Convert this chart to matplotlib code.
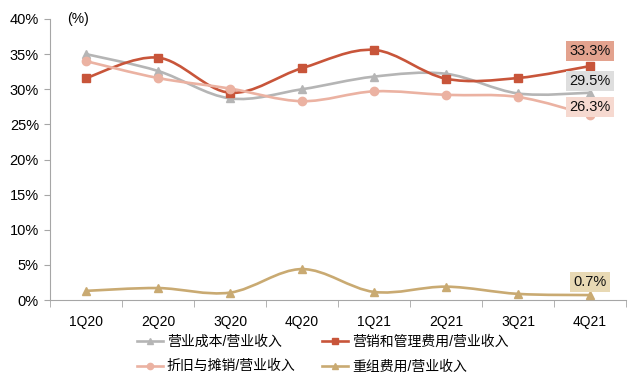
import numpy as np
import matplotlib
matplotlib.use("Agg")
from matplotlib import pyplot as plt
from matplotlib.path import Path
from matplotlib.patches import PathPatch
from matplotlib.lines import Line2D

plt.rcParams['font.family'] = ['Liberation Sans', 'Noto Sans CJK SC', 'DejaVu Sans']

quarters = ["1Q20", "2Q20", "3Q20", "4Q20", "1Q21", "2Q21", "3Q21", "4Q21"]
cost_ratio = [35.0, 32.6, 28.7, 30.0, 31.8, 32.2, 29.4, 29.5]
sga_ratio = [31.6, 34.5, 29.5, 33.0, 35.6, 31.5, 31.6, 33.3]
da_ratio = [34.0, 31.6, 30.1, 28.3, 29.7, 29.2, 28.9, 26.3]
restructuring_ratio = [1.3, 1.7, 1.05, 4.4, 1.15, 1.9, 0.87, 0.7]

series_names = ["营业成本/营业收入", "营销和管理费用/营业收入",
                "折旧与摊销/营业收入", "重组费用/营业收入"]


def smooth_path(xs, ys):
    # excel-like smoothed line: cubic bezier through the points
    pts = np.column_stack([xs, ys]).astype(float)
    n = len(pts)
    verts = [pts[0]]
    codes = [Path.MOVETO]
    for i in range(n - 1):
        p0 = pts[max(i - 1, 0)]
        p1 = pts[i]
        p2 = pts[i + 1]
        p3 = pts[min(i + 2, n - 1)]
        verts += [p1 + (p2 - p0) / 6, p2 - (p3 - p1) / 6, p2]
        codes += [Path.CURVE4] * 3
    return Path(verts, codes)


fig = plt.figure(figsize=(6.4, 3.78), dpi=100)
ax = fig.add_axes([50 / 640, 1 - 300 / 378, 576 / 640, 281 / 378])

x = np.arange(len(quarters))
styles = [
    (cost_ratio, "#B5B5B5", "^", 6),
    (sga_ratio, "#C8553A", "s", 6),
    (da_ratio, "#EBB2A2", "o", 6),
    (restructuring_ratio, "#C9AA72", "^", 6),
]
handles = []
for (vals, color, mk, ms), name in zip(styles, series_names):
    ax.add_patch(PathPatch(smooth_path(x, vals), fill=False, edgecolor=color, lw=1.9, zorder=2))
    ax.plot(x, vals, ls="none", marker=mk, ms=ms, color=color, zorder=3)
    handles.append(Line2D([], [], color=color, lw=1.9, marker=mk, ms=4.5, label=name))

# end labels
labels = [
    (sga_ratio[-1], 6.0, "#E3A28E"),
    (cost_ratio[-1], 3.5, "#DEDEDE"),
    (da_ratio[-1], 1.0, "#F6D9D0"),
    (restructuring_ratio[-1], 4.5, "#E8D9B4"),
]
for val, off, bg in labels:
    ax.annotate(f"{val:.1f}%", (x[-1], val), xytext=(0, off), textcoords="offset points",
                ha="center", va="bottom", fontsize=10.5, color="#111111",
                bbox=dict(boxstyle="square,pad=0.22", fc=bg, ec="none"), zorder=5)

ax.set_xlim(-0.5, len(quarters) - 0.5)
ax.set_ylim(0, 40)
ax.set_yticks(np.arange(0, 41, 5))
ax.set_yticklabels([f"{v}%" for v in range(0, 41, 5)], fontsize=10.5)
ax.set_xticks(x)
ax.set_xticklabels(quarters, fontsize=10)
ax.set_xticks(np.arange(-0.5, len(quarters)), minor=True)
ax.tick_params(axis="x", which="major", length=0, pad=11)
ax.tick_params(axis="x", which="minor", length=5, color="#A6A6A6")
ax.tick_params(axis="y", length=4, color="#A6A6A6", pad=4)
for s in ["top", "right"]:
    ax.spines[s].set_visible(False)
for s in ["left", "bottom"]:
    ax.spines[s].set_color("#A6A6A6")

ax.text(0.03, 1.0, "(%)", transform=ax.transAxes, fontsize=10, va="center")

fig.legend(handles=[handles[0], handles[2], handles[1], handles[3]], ncol=2,
           loc="upper left", bbox_to_anchor=(137 / 640, 1 - 335 / 378),
           frameon=False, fontsize=10, handlelength=1.85, columnspacing=1.9,
           labelspacing=0.75, handletextpad=0.3, borderpad=0, borderaxespad=0)

fig.savefig("out.png", dpi=100)
